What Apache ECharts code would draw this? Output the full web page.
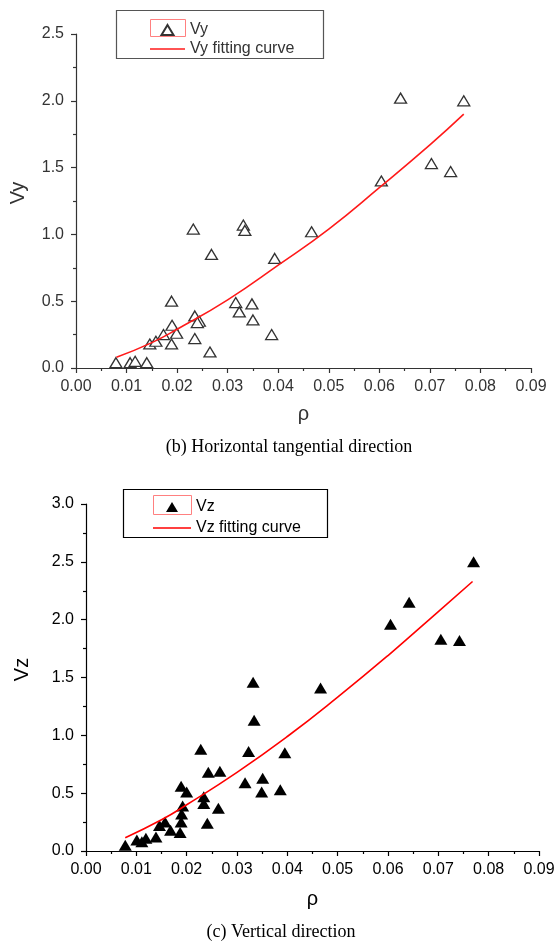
<!DOCTYPE html>
<html>
<head>
<meta charset="utf-8">
<script src="https://cdn.jsdelivr.net/npm/echarts@6/dist/echarts.min.js"></script>
<style>
html,body{margin:0;padding:0;background:#fff;}
#c{width:558px;height:946px;}
</style>
</head>
<body>
<div id="c"></div>
<script>
// ---- Data ----
const rhoVy = [0.0079,0.0107,0.0117,0.0140,0.0146,0.0158,0.0173,0.0189,0.0189,0.0190,0.0199,0.0232,0.0235,0.0235,0.0244,0.0240,0.0265,0.0268,0.0316,0.0323,0.0331,0.0334,0.0348,0.0350,0.0387,0.0393,0.0466,0.0604,0.0642,0.0703,0.0741,0.0767];
const valVy = [0.04,0.04,0.05,0.04,0.18,0.20,0.25,0.18,0.50,0.32,0.26,1.04,0.39,0.22,0.35,0.34,0.12,0.85,0.49,0.42,1.07,1.03,0.48,0.36,0.25,0.82,1.02,1.40,2.02,1.53,1.47,2.00];
const fitRhoVy = [0.008,0.015,0.020,0.030,0.040,0.050,0.060,0.070,0.0767];
const fitVy = [0.08,0.19,0.29,0.51,0.77,1.04,1.35,1.67,1.90];

const rhoVz = [0.0078,0.0101,0.0111,0.0119,0.0139,0.0146,0.0157,0.0168,0.0187,0.0189,0.0190,0.0192,0.0189,0.0200,0.0228,0.0234,0.0234,0.0241,0.0243,0.0266,0.0263,0.0316,0.0323,0.0332,0.0334,0.0351,0.0349,0.0386,0.0395,0.0466,0.0605,0.0642,0.0705,0.0742,0.0770];
const valVz = [0.05,0.095,0.08,0.11,0.12,0.22,0.25,0.18,0.16,0.25,0.32,0.39,0.56,0.51,0.88,0.47,0.41,0.24,0.68,0.69,0.37,0.59,0.86,1.46,1.13,0.63,0.51,0.53,0.85,1.41,1.96,2.15,1.83,1.82,2.50];
const fitRhoVz = [0.0078,0.015,0.020,0.030,0.040,0.050,0.060,0.070,0.0768];
const fitVz = [0.115,0.27,0.40,0.68,0.99,1.33,1.69,2.07,2.33];

const xTicks = ['0.00','0.01','0.02','0.03','0.04','0.05','0.06','0.07','0.08','0.09'];
const yTicksTop = ['0.0','0.5','1.0','1.5','2.0','2.5'];
const yTicksBot = ['0.0','0.5','1.0','1.5','2.0','2.5','3.0'];

const pairs = (xs, ys) => xs.map((x, i) => [x, ys[i]]);
const SANS = 'Liberation Sans, Arial, sans-serif';
const SERIF = 'Liberation Serif, Times New Roman, serif';
const TRI_ICON = 'path://M6,0 L12,10 L0,10 Z';
const LINE_ICON = 'path://M0,0 L35,0 L35,1.6 L0,1.6 Z';

function xAxisCfg(grid, color) {
  return {
    type: 'value', gridIndex: grid, min: 0, max: 0.09, interval: 0.01,
    name: 'ρ', nameLocation: 'middle', nameGap: grid === 0 ? 36 : 38,
    nameTextStyle: { fontFamily: SANS, fontSize: 20, color: color },
    axisLine: { show: true, lineStyle: { color: color, width: 1.2 } },
    axisTick: { show: true, length: 5, lineStyle: { color: color, width: 1.2 } },
    minorTick: { show: true, splitNumber: 2, length: 3, lineStyle: { color: color, width: 1.2 } },
    splitLine: { show: false },
    axisLabel: { margin: 11, fontFamily: SANS, fontSize: 16, color: color,
      formatter: v => xTicks[Math.round(v * 100)] }
  };
}
function yAxisCfg(grid, color, max, labels, name, gap) {
  return {
    type: 'value', gridIndex: grid, min: 0, max: max, interval: 0.5,
    name: name, nameLocation: 'middle', nameGap: gap, nameRotate: 90,
    nameTextStyle: { fontFamily: SANS, fontSize: 20, color: color, padding: [0, 0, 0, 16] },
    axisLine: { show: true, lineStyle: { color: color, width: 1.2 } },
    axisTick: { show: true, length: 5, lineStyle: { color: color, width: 1.2 } },
    minorTick: { show: true, splitNumber: 2, length: 3, lineStyle: { color: color, width: 1.2 } },
    splitLine: { show: false },
    axisLabel: { margin: 12, fontFamily: SANS, fontSize: 16, color: color,
      formatter: v => labels[Math.round(v * 2)] }
  };
}

const chart = echarts.init(document.getElementById('c'), null, { renderer: 'canvas' });
chart.setOption({
  backgroundColor: '#fff',
  animation: false,
  grid: [
    { left: 76, top: 34, width: 455, height: 334 },
    { left: 86, top: 504, width: 453, height: 347 }
  ],
  xAxis: [xAxisCfg(0, '#333'), xAxisCfg(1, '#000')],
  yAxis: [
    yAxisCfg(0, '#333', 2.5, yTicksTop, 'Vy', 48),
    yAxisCfg(1, '#000', 3.0, yTicksBot, 'Vz', 54)
  ],
  legend: [
    {
      orient: 'vertical', left: 145, top: 17, itemWidth: 35, itemHeight: 10, itemGap: 3,
      symbolKeepAspect: true,
      textStyle: { fontFamily: SANS, fontSize: 16, color: '#333' },
      data: [{ name: 'Vy', icon: TRI_ICON }, { name: 'Vy fitting curve', icon: LINE_ICON }]
    },
    {
      orient: 'vertical', left: 148, top: 494, itemWidth: 38, itemHeight: 10, itemGap: 5,
      symbolKeepAspect: true,
      textStyle: { fontFamily: SANS, fontSize: 16, color: '#000' },
      data: [{ name: 'Vz', icon: TRI_ICON }, { name: 'Vz fitting curve', icon: LINE_ICON }]
    }
  ],
  series: [
    {
      name: 'Vy', type: 'scatter', xAxisIndex: 0, yAxisIndex: 0,
      symbol: 'triangle', symbolSize: [12, 10],
      itemStyle: { color: '#fff', borderColor: '#333', borderWidth: 1.3, opacity: 1 },
      data: pairs(rhoVy, valVy), z: 3
    },
    {
      name: 'Vy fitting curve', type: 'line', xAxisIndex: 0, yAxisIndex: 0,
      smooth: true, symbol: 'none', showSymbol: false,
      lineStyle: { color: '#ff1a1a', width: 1.6 }, itemStyle: { color: '#ff1a1a' },
      data: pairs(fitRhoVy, fitVy), z: 4
    },
    {
      name: 'Vz', type: 'scatter', xAxisIndex: 1, yAxisIndex: 1,
      symbol: 'triangle', symbolSize: [13, 11],
      itemStyle: { color: '#000', opacity: 1 },
      data: pairs(rhoVz, valVz), z: 3
    },
    {
      name: 'Vz fitting curve', type: 'line', xAxisIndex: 1, yAxisIndex: 1,
      smooth: true, symbol: 'none', showSymbol: false,
      lineStyle: { color: '#ff0000', width: 1.6 }, itemStyle: { color: '#ff0000' },
      data: pairs(fitRhoVz, fitVz), z: 4
    }
  ],
  graphic: [
    { type: 'rect', shape: { x: 116.5, y: 10.5, width: 207, height: 48 },
      style: { fill: 'none', stroke: '#555', lineWidth: 1.2 }, z: 1 },
    { type: 'rect', shape: { x: 150.5, y: 19.5, width: 35, height: 17 },
      style: { fill: 'none', stroke: '#ff8080', lineWidth: 1 }, z: 1 },
    { type: 'rect', shape: { x: 123.5, y: 489.5, width: 204, height: 48 },
      style: { fill: 'none', stroke: '#000', lineWidth: 1.2 }, z: 1 },
    { type: 'rect', shape: { x: 153.5, y: 495.5, width: 38, height: 19 },
      style: { fill: 'none', stroke: '#ff8080', lineWidth: 1 }, z: 1 },
    { type: 'text', x: 289, y: 447,
      style: { text: '(b) Horizontal tangential direction', font: '18px ' + SERIF,
        fill: '#000', textAlign: 'center', textVerticalAlign: 'middle' } },
    { type: 'text', x: 281, y: 932,
      style: { text: '(c) Vertical direction', font: '18px ' + SERIF,
        fill: '#000', textAlign: 'center', textVerticalAlign: 'middle' } }
  ]
});
</script>
</body>
</html>
